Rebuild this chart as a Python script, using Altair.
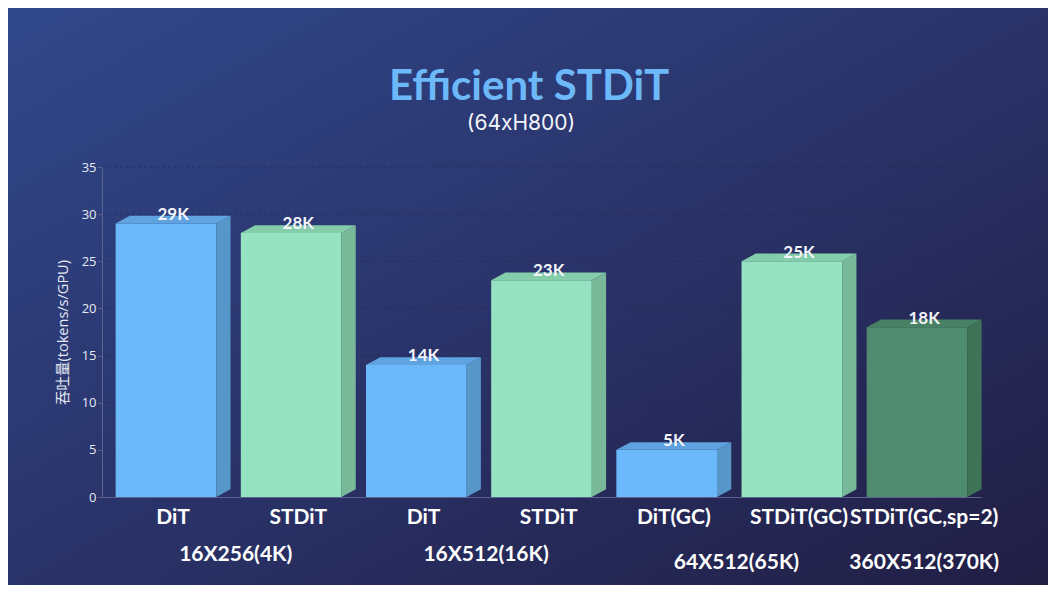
import altair as alt
import pandas as pd

# ---------------- data ----------------
categories = ["DiT", "STDiT", "DiT", "STDiT", "DiT(GC)", "STDiT(GC)", "STDiT(GC,sp=2)"]
values = [29, 28, 14, 23, 5, 25, 18]
value_labels = ["29K", "28K", "14K", "23K", "5K", "25K", "18K"]
kinds = ["dit", "stdit", "dit", "stdit", "dit", "stdit", "sp"]
groups = ["16X256(4K)", "16X256(4K)", "16X512(16K)", "16X512(16K)",
          "64X512(65K)", "64X512(65K)", "360X512(370K)"]
y_ticks = [0, 5, 10, 15, 20, 25, 30, 35]
title_text = "Efficient STDiT"
subtitle_text = "(64xH800)"
y_title = "吞吐量(tokens/s/GPU)"

# ---------------- style ----------------
PALETTE = {
    "dit":   {"front": "#6BB9FB", "top": "#5FA4E1", "side": "#5796C8"},
    "stdit": {"front": "#96E3C1", "top": "#84CDAB", "side": "#78B99A"},
    "sp":    {"front": "#4F8C6F", "top": "#478264", "side": "#3F7358"},
}
COND = "Lato, Liberation Sans, sans-serif"
SANS = "Inter, Open Sans, Noto Sans, Noto Sans CJK SC, sans-serif"
AXF = "Open Sans, Noto Sans, Noto Sans CJK SC, sans-serif"
HALF = 0.402     # half of the front-face width (x units)
DEPTH_X = 0.114  # 3D depth, x units
DEPTH_Y = 0.817  # 3D depth, y units

W, H = 879, 330
PAD = {"left": 94, "top": 159, "right": 67, "bottom": 88}

# ---------------- tables ----------------
front_rows, face_rows = [], []
for i, (v, k) in enumerate(zip(values, kinds)):
    L, R = i - HALF, i + HALF
    front_rows.append({"id": i, "xl": L, "xr": R, "v": v, "base": 0, "fill": PALETTE[k]["front"]})
    s = PALETTE[k]["side"]
    face_rows.append({"id": f"s{i}", "x": R, "y": v, "y2": 0, "fill": s})
    face_rows.append({"id": f"s{i}", "x": R + DEPTH_X, "y": v + DEPTH_Y, "y2": DEPTH_Y, "fill": s})
    c = PALETTE[k]["top"]
    face_rows.append({"id": f"t{i}", "x": L, "y": v, "y2": v, "fill": c})
    face_rows.append({"id": f"t{i}", "x": L + DEPTH_X, "y": v, "y2": v + DEPTH_Y, "fill": c})
    face_rows.append({"id": f"t{i}", "x": R, "y": v, "y2": v + DEPTH_Y, "fill": c})
    face_rows.append({"id": f"t{i}", "x": R + DEPTH_X, "y": v + DEPTH_Y, "y2": v + DEPTH_Y, "fill": c})

front = pd.DataFrame(front_rows)
faces = pd.DataFrame(face_rows)
labels = pd.DataFrame({
    "idx": list(range(len(categories))),
    "cat": categories,
    "v": values,
    "lab": value_labels,
})
labels["lx"] = labels["idx"] + DEPTH_X / 2
labels["ly"] = labels["v"] + DEPTH_Y
grp = pd.DataFrame({"idx": list(range(len(groups))), "grp": groups})
grp = grp.groupby("grp", sort=False)["idx"].mean().reset_index()
grp["gx"] = grp["idx"] + DEPTH_X / 2
grp["order"] = range(len(grp))
grid = pd.DataFrame({"t": y_ticks[1:]})

xscale = alt.Scale(domain=[-0.511, 6.511], nice=False, zero=False)
yscale = alt.Scale(domain=[0, 35], nice=False)

x_axis = alt.Axis(labels=False, ticks=False, grid=False, title=None,
                  domainColor="#5D6390", domainWidth=1, zindex=1)
y_axis = alt.Axis(values=y_ticks, title=y_title, grid=False, zindex=1,
                  domainColor="#5D6390", tickColor="#5D6390", tickSize=4,
                  labelColor="#E6E9F4", labelFont=AXF, labelFontSize=13,
                  labelPadding=2,
                  titleColor="#E6E9F4", titleFont=AXF, titleFontSize=14.5,
                  titleFontWeight="normal", titlePadding=11)


def X(f):
    return alt.X(f, scale=xscale, axis=x_axis, title=None)


def Y(f):
    return alt.Y(f, scale=yscale, axis=y_axis, title=y_title)


one = pd.DataFrame({"a": [0]})

bg = alt.Chart(one).mark_rect(
    color=alt.LinearGradient(
        gradient="linear", x1=0, y1=0, x2=1, y2=1,
        stops=[alt.GradientStop(offset=0, color="#30488B"),
               alt.GradientStop(offset=0.5, color="#2A3369"),
               alt.GradientStop(offset=1, color="#211E44")],
    )
).encode(
    x=alt.value(-PAD["left"]), x2=alt.value(W + PAD["right"]),
    y=alt.value(-PAD["top"]), y2=alt.value(H + PAD["bottom"]),
)

grid_layer = alt.Chart(grid).mark_rule(
    color="#1C2452", strokeDash=[3, 3], opacity=0.45, strokeWidth=1
).encode(
    x=alt.value(0), x2=alt.value(W),
    y=Y("t:Q"),
)

front_layer = alt.Chart(front).mark_rect().encode(
    x=X("xl:Q"), x2="xr:Q",
    y=Y("v:Q"), y2="base:Q",
    color=alt.Color("fill:N", scale=None),
)

face_layer = alt.Chart(faces).mark_area(orient="vertical").encode(
    x=X("x:Q"),
    y=Y("y:Q"), y2="y2:Q",
    detail="id:N",
    color=alt.Color("fill:N", scale=None),
)

value_text = alt.Chart(labels).mark_text(
    font=COND, fontSize=17, fontWeight="bold", color="#F2F4FA",
    baseline="alphabetic", dy=4,
).encode(
    x=X("lx:Q"), y=Y("ly:Q"),
    text="lab:N",
)

cat_text = alt.Chart(labels).mark_text(
    font=COND, fontSize=21, fontWeight="bold", color="#FFFFFF",
    baseline="middle",
).encode(
    x=X("lx:Q"),
    y=alt.value(H + 21),
    text="cat:N",
)

grp_text_a = alt.Chart(grp).transform_filter("datum.order < 2").mark_text(
    font=COND, fontSize=21, fontWeight="bold", color="#FFFFFF",
    baseline="middle",
).encode(
    x=X("gx:Q"),
    y=alt.value(H + 58),
    text="grp:N",
)
grp_text_b = alt.Chart(grp).transform_filter("datum.order >= 2").mark_text(
    font=COND, fontSize=21, fontWeight="bold", color="#FFFFFF",
    baseline="middle",
).encode(
    x=X("gx:Q"),
    y=alt.value(H + 66),
    text="grp:N",
)

title_mark = alt.Chart(one).mark_text(
    text=title_text, font=COND, fontSize=42, fontWeight="bold",
    color="#6CB8F8", baseline="alphabetic", align="center",
).encode(x=alt.value(427), y=alt.value(-67))

subtitle_mark = alt.Chart(one).mark_text(
    text=subtitle_text, font=SANS, fontSize=21, color="#F4F5FA",
    baseline="alphabetic", align="center",
).encode(x=alt.value(419), y=alt.value(-37))

chart = alt.layer(
    bg, grid_layer, front_layer, face_layer, value_text, cat_text,
    grp_text_a, grp_text_b, title_mark, subtitle_mark,
).properties(
    width=W, height=H,
    autosize=alt.AutoSizeParams(type="none"),
    padding=PAD,
    background="#2A3369",
).configure_view(stroke=None)

chart.save("out.html", embed_options={"renderer": "svg", "actions": False})
